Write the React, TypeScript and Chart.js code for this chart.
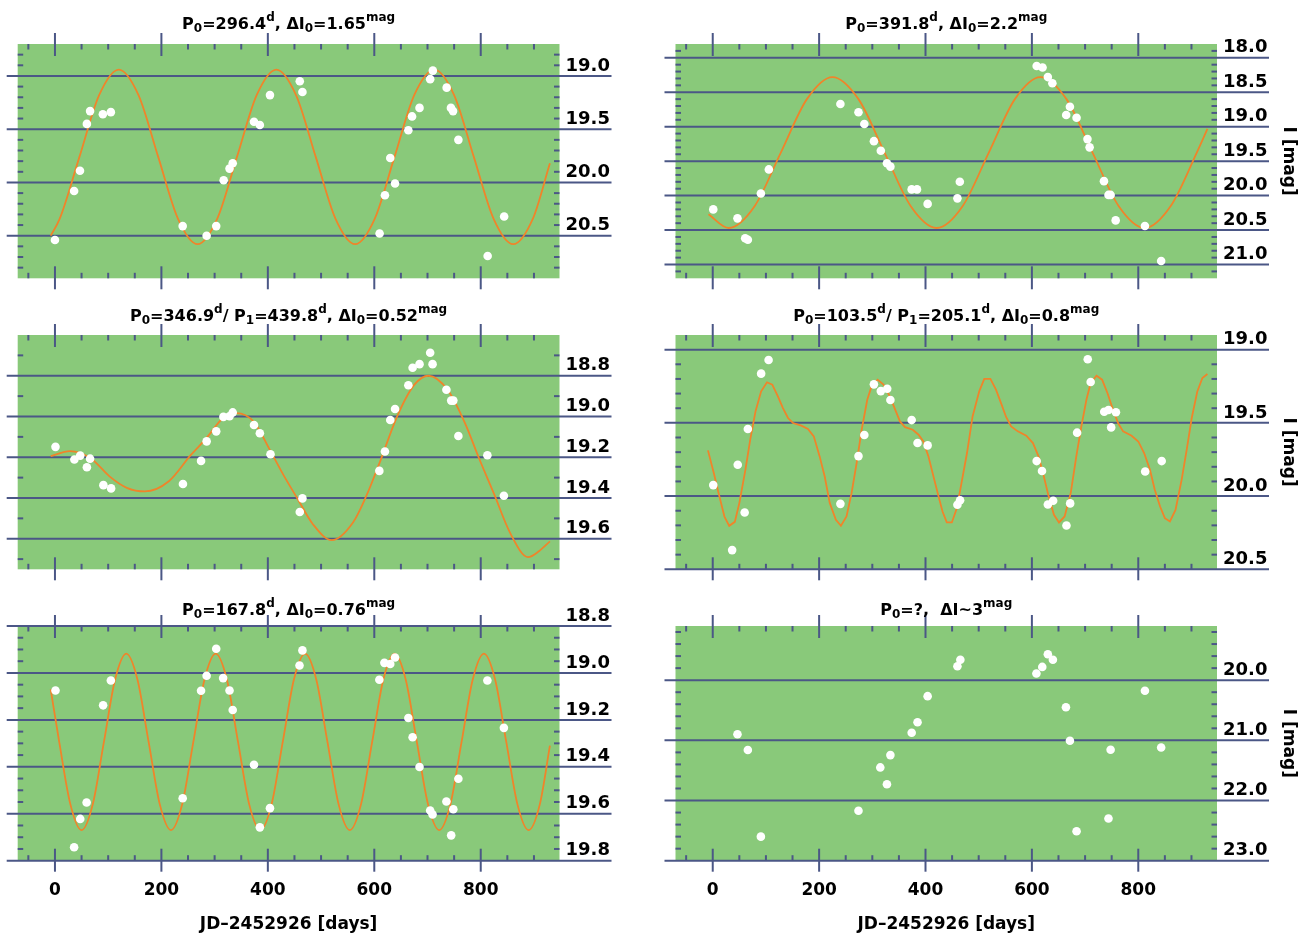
import React, { useEffect, useRef } from "react";
import { Chart, registerables } from "chart.js";

Chart.register(...registerables);

const FONT = "'DejaVu Sans', sans-serif";
const AXIS_COLOR = "#4b5786";
const PLOT_BG = "#89c97a";
const CURVE_COLOR = "#f0842a";

// ---------- shared x axis ----------
const X_MIN = -70;
const X_MAX = 948;
const xMajorTicks = [0, 200, 400, 600, 800];
const xMinorTicks = [-50, 50, 100, 150, 250, 300, 350, 450, 500, 550, 650, 700, 750, 850, 900];
const xAxisTitle = "JD–2452926 [days]";
const yAxisTitle = "I [mag]";

type Seg = [string, "n" | "sub" | "sup"];

// ---------- panel 1 ----------
const p1Title: Seg[] = [["P", "n"], ["0", "sub"], ["=296.4", "n"], ["d", "sup"], [", ΔI", "n"], ["0", "sub"], ["=1.65", "n"], ["mag", "sup"]];
const p1Days = [0, 36, 47, 60, 66, 90, 105, 240, 285, 303, 317, 328, 334, 374, 385, 404, 460, 465, 610, 620, 630, 639, 664, 671, 685, 705, 710, 736, 744, 748, 758, 813, 844];
const p1Mags = [20.54, 20.08, 19.89, 19.45, 19.33, 19.36, 19.34, 20.41, 20.5, 20.41, 19.98, 19.87, 19.82, 19.43, 19.46, 19.18, 19.05, 19.15, 20.48, 20.12, 19.77, 20.01, 19.51, 19.38, 19.3, 19.03, 18.95, 19.11, 19.3, 19.33, 19.6, 20.69, 20.32];
const p1CurveDays = [-8, 9, 46, 83, 120, 157, 194, 231, 268, 305, 342, 379, 416, 453, 490, 527, 564, 601, 638, 675, 713, 750, 787, 824, 861, 898, 930];
const p1CurveMags = [20.5, 20.34, 19.76, 19.18, 18.94, 19.18, 19.76, 20.34, 20.58, 20.34, 19.76, 19.18, 18.94, 19.18, 19.76, 20.34, 20.58, 20.34, 19.76, 19.18, 18.94, 19.18, 19.76, 20.34, 20.58, 20.34, 19.82];
const p1YTicks = [19.0, 19.5, 20.0, 20.5];

// ---------- panel 2 ----------
const p2Title: Seg[] = [["P", "n"], ["0", "sub"], ["=391.8", "n"], ["d", "sup"], [", ΔI", "n"], ["0", "sub"], ["=2.2", "n"], ["mag", "sup"]];
const p2Days = [1, 46.5, 61, 66, 90.5, 105.5, 240, 274, 285, 303, 316, 327.5, 334, 374, 384, 404, 460, 464.5, 609, 620, 630, 638.5, 664.5, 671.5, 684, 704.5, 708.5, 735.5, 744, 748, 757.5, 812.5, 843];
const p2Mags = [20.2, 20.33, 20.62, 20.64, 19.97, 19.62, 18.67, 18.79, 18.96, 19.21, 19.35, 19.53, 19.58, 19.91, 19.91, 20.12, 20.04, 19.8, 18.12, 18.14, 18.28, 18.37, 18.83, 18.71, 18.87, 19.18, 19.3, 19.79, 19.99, 19.99, 20.36, 20.44, 20.95];
const p2CurveDays = [-8, 30, 79, 128, 177, 225, 274, 323, 372, 421, 470, 519, 568, 616, 665, 714, 763, 812, 861, 910, 930];
const p2CurveMags = [20.27, 20.47, 20.15, 19.375, 18.6, 18.28, 18.6, 19.375, 20.15, 20.47, 20.15, 19.375, 18.6, 18.28, 18.6, 19.375, 20.15, 20.47, 20.15, 19.375, 19.03];
const p2YTicks = [18.0, 18.5, 19.0, 19.5, 20.0, 20.5, 21.0];

// ---------- panel 3 ----------
const p3Title: Seg[] = [["P", "n"], ["0", "sub"], ["=346.9", "n"], ["d", "sup"], ["/ P", "n"], ["1", "sub"], ["=439.8", "n"], ["d", "sup"], [", ΔI", "n"], ["0", "sub"], ["=0.52", "n"], ["mag", "sup"]];
const p3Days = [1, 36.5, 47.5, 60, 66, 91, 105.5, 240.5, 274.5, 285, 303, 316.5, 328, 334, 374, 385, 405, 460, 465, 609.5, 620, 630, 639, 664, 672, 685, 705, 709.5, 735.5, 744.5, 748.5, 758, 812.5, 843.5];
const p3Mags = [19.149, 19.211, 19.192, 19.249, 19.207, 19.337, 19.353, 19.331, 19.218, 19.122, 19.073, 19.002, 18.999, 18.98, 19.042, 19.082, 19.185, 19.469, 19.402, 19.267, 19.172, 19.017, 18.963, 18.847, 18.761, 18.743, 18.687, 18.743, 18.869, 18.922, 18.922, 19.096, 19.19, 19.389];
const p3CurveDays = [-8, 28, 67, 103, 135, 169, 214, 255, 285, 315, 341, 373, 405, 430, 455, 485, 520, 560, 585, 611, 643, 675, 702, 738, 770, 796, 825, 855, 889, 910, 930];
const p3CurveMags = [19.195, 19.17, 19.205, 19.295, 19.35, 19.368, 19.318, 19.19, 19.105, 19.01, 18.983, 19.024, 19.17, 19.29, 19.4, 19.53, 19.607, 19.52, 19.39, 19.22, 18.999, 18.845, 18.8, 18.87, 19.03, 19.2, 19.38, 19.57, 19.69, 19.66, 19.613];
const p3YTicks = [18.8, 19.0, 19.2, 19.4, 19.6];

// ---------- panel 4 ----------
const p4Title: Seg[] = [["P", "n"], ["0", "sub"], ["=103.5", "n"], ["d", "sup"], ["/ P", "n"], ["1", "sub"], ["=205.1", "n"], ["d", "sup"], [", ΔI", "n"], ["0", "sub"], ["=0.8", "n"], ["mag", "sup"]];
const p4Days = [1, 36.5, 47, 60, 66, 91, 105, 240, 274, 285, 303, 316, 328, 334, 374, 385, 404, 460, 465, 609, 619, 630, 640, 665, 672, 685, 705, 710.5, 736, 744, 749, 758, 813, 844];
const p4Mags = [19.925, 20.369, 19.786, 20.112, 19.542, 19.164, 19.071, 20.053, 19.727, 19.583, 19.237, 19.283, 19.267, 19.344, 19.481, 19.638, 19.654, 20.059, 20.028, 19.761, 19.829, 20.057, 20.032, 20.201, 20.05, 19.567, 19.066, 19.221, 19.424, 19.412, 19.531, 19.428, 19.832, 19.761];
const p4CurveDays = [-9, 2, 11, 22, 31, 41.5, 50, 61.5, 70.5, 80.5, 91, 102, 112, 122.5, 132, 141.5, 151, 166.5, 179, 190, 201, 210.5, 220, 231.5, 241, 251.5, 261, 270.5, 280, 290.5, 298.5, 310, 321, 333, 343, 352, 361.5, 376, 387, 396, 405.5, 415, 424.5, 432, 440, 449.5, 459, 466.5, 478, 488.5, 501, 510.5, 522, 532.5, 542, 551.5, 561, 573.5, 589.5, 602, 612.5, 622.5, 631.5, 641.5, 651, 661.5, 673, 683.5, 693, 702.5, 710.5, 721.5, 732, 742, 752.5, 762, 771.5, 787.5, 800, 811, 822, 831, 841, 850, 859.5, 870, 881.5, 891, 900.5, 911, 920.5, 930];
const p4CurveMags = [19.688, 19.843, 19.98, 20.14, 20.203, 20.176, 20.048, 19.82, 19.615, 19.42, 19.285, 19.223, 19.239, 19.319, 19.399, 19.467, 19.501, 19.519, 19.542, 19.592, 19.729, 19.866, 20.048, 20.162, 20.203, 20.139, 19.98, 19.775, 19.547, 19.342, 19.251, 19.205, 19.239, 19.319, 19.41, 19.49, 19.529, 19.547, 19.581, 19.627, 19.729, 19.866, 20.002, 20.105, 20.18, 20.18, 20.082, 19.934, 19.706, 19.456, 19.285, 19.2, 19.2, 19.273, 19.365, 19.46, 19.524, 19.558, 19.588, 19.638, 19.729, 19.866, 20.002, 20.128, 20.18, 20.139, 19.98, 19.729, 19.524, 19.342, 19.228, 19.178, 19.205, 19.296, 19.41, 19.501, 19.558, 19.588, 19.627, 19.706, 19.82, 19.957, 20.071, 20.151, 20.173, 20.094, 19.889, 19.684, 19.467, 19.285, 19.194, 19.166];
const p4YTicks = [19.0, 19.5, 20.0, 20.5];

// ---------- panel 5 ----------
const p5Title: Seg[] = [["P", "n"], ["0", "sub"], ["=167.8", "n"], ["d", "sup"], [", ΔI", "n"], ["0", "sub"], ["=0.76", "n"], ["mag", "sup"]];
const p5Days = [1, 36, 47.5, 59.5, 90.5, 105, 240, 274.5, 285, 303, 316, 328, 334, 374, 385, 404, 459.5, 465, 609.5, 619, 630, 639, 664, 672, 685, 705, 709.5, 735.5, 744.5, 748.5, 758, 812.5, 843.5];
const p5Mags = [19.075, 19.743, 19.622, 19.552, 19.138, 19.032, 19.534, 19.076, 19.012, 18.897, 19.022, 19.075, 19.158, 19.391, 19.658, 19.576, 18.968, 18.904, 19.029, 18.957, 18.962, 18.934, 19.192, 19.274, 19.401, 19.586, 19.603, 19.548, 19.692, 19.581, 19.451, 19.032, 19.234];
const p5CurveDays = [-8, 8, 29, 50, 71, 92, 113, 134, 155, 176, 197, 218, 239, 260, 281, 302, 323, 344, 365, 386, 407, 428, 449, 470, 491, 512, 533, 554, 575, 596, 617, 638, 659, 680, 701, 722, 743, 764, 785, 806, 827, 848, 869, 890, 911, 930];
const p5CurveMags = [19.07, 19.294, 19.56, 19.67, 19.56, 19.294, 19.028, 18.918, 19.028, 19.294, 19.56, 19.67, 19.56, 19.294, 19.028, 18.918, 19.028, 19.294, 19.56, 19.67, 19.56, 19.294, 19.028, 18.918, 19.028, 19.294, 19.56, 19.67, 19.56, 19.294, 19.028, 18.918, 19.028, 19.294, 19.56, 19.67, 19.56, 19.294, 19.028, 18.918, 19.028, 19.294, 19.56, 19.67, 19.56, 19.31];
const p5YTicks = [18.8, 19.0, 19.2, 19.4, 19.6, 19.8];

// ---------- panel 6 ----------
const p6Title: Seg[] = [["P", "n"], ["0", "sub"], ["=?,  ΔI~3", "n"], ["mag", "sup"]];
const p6Days = [46.5, 66, 90.5, 274, 315, 327.5, 334, 374, 385, 404, 460, 465.5, 608.5, 619.5, 630, 639.5, 664, 671.5, 684, 744, 748, 812.5, 843];
const p6Mags = [20.9, 21.16, 22.6, 22.17, 21.45, 21.73, 21.245, 20.874, 20.7, 20.266, 19.77, 19.66, 19.89, 19.78, 19.57, 19.66, 20.45, 21.007, 22.51, 22.3, 21.157, 20.177, 21.118];
const p6YTicks = [20.0, 21.0, 22.0, 23.0];

// ---------- layout ----------
const COLS = [
  { left: 0, width: 652, padLeft: 17.7, axisW: 92.5 },
  { left: 652, width: 653, padLeft: 23.5, axisW: 88 },
];
const ROWS = [
  { top: 0, height: 291, padBottom: 12.7, titleGap: 14.7, xAxisH: 0 },
  { top: 291, height: 291, padBottom: 12.7, titleGap: 14, xAxisH: 0 },
  { top: 582, height: 351, padBottom: 0, titleGap: 11, xAxisH: 72.3 },
];

type Panel = {
  title: Seg[];
  days: number[];
  mags: number[];
  curveDays?: number[];
  curveMags?: number[];
  curveMode?: "smooth" | "linear";
  yMin: number;
  yMax: number;
  yTicks: number[];
  yMinorStep: number;
  col: number;
  row: number;
};

const PANELS: Panel[] = [
  { title: p1Title, days: p1Days, mags: p1Mags, curveDays: p1CurveDays, curveMags: p1CurveMags, curveMode: "smooth", yMin: 18.7, yMax: 20.9, yTicks: p1YTicks, yMinorStep: 0.1, col: 0, row: 0 },
  { title: p2Title, days: p2Days, mags: p2Mags, curveDays: p2CurveDays, curveMags: p2CurveMags, curveMode: "smooth", yMin: 17.8, yMax: 21.2, yTicks: p2YTicks, yMinorStep: 0.1, col: 1, row: 0 },
  { title: p3Title, days: p3Days, mags: p3Mags, curveDays: p3CurveDays, curveMags: p3CurveMags, curveMode: "smooth", yMin: 18.6, yMax: 19.75, yTicks: p3YTicks, yMinorStep: 0.1, col: 0, row: 1 },
  { title: p4Title, days: p4Days, mags: p4Mags, curveDays: p4CurveDays, curveMags: p4CurveMags, curveMode: "linear", yMin: 18.9, yMax: 20.5, yTicks: p4YTicks, yMinorStep: 0.1, col: 1, row: 1 },
  { title: p5Title, days: p5Days, mags: p5Mags, curveDays: p5CurveDays, curveMags: p5CurveMags, curveMode: "smooth", yMin: 18.8, yMax: 19.8, yTicks: p5YTicks, yMinorStep: 0.05, col: 0, row: 2 },
  { title: p6Title, days: p6Days, mags: p6Mags, yMin: 19.1, yMax: 23.0, yTicks: p6YTicks, yMinorStep: 0.2, col: 1, row: 2 },
];

function makePlugins(p: Panel) {
  const r = ROWS[p.row];
  const bg = {
    id: "plotBg",
    beforeDraw(chart: any) {
      const { ctx, chartArea: a } = chart;
      ctx.save();
      ctx.fillStyle = PLOT_BG;
      ctx.fillRect(a.left, a.top, a.right - a.left, a.bottom - a.top);
      ctx.restore();
    },
  };
  const decor = {
    id: "frameDecor",
    beforeDatasetsDraw(chart: any) {
      const { ctx, chartArea: a } = chart;
      const xs = chart.scales.x;
      const ys = chart.scales.y;
      ctx.save();
      ctx.strokeStyle = AXIS_COLOR;
      ctx.lineWidth = 2;
      const seg = (x1: number, y1: number, x2: number, y2: number) => {
        ctx.beginPath();
        ctx.moveTo(x1, y1);
        ctx.lineTo(x2, y2);
        ctx.stroke();
      };
      for (const v of p.yTicks) {
        const y = ys.getPixelForValue(v);
        seg(a.left - 11, y, a.right + 52, y);
      }
      const step = p.yMinorStep;
      for (let k = Math.ceil(p.yMin / step - 1e-6); k * step <= p.yMax + 1e-9; k++) {
        const v = k * step;
        if (p.yTicks.some((m) => Math.abs(m - v) < 1e-6)) continue;
        const y = ys.getPixelForValue(v);
        if (y < a.top + 1.5 || y > a.bottom - 1.5) continue;
        seg(a.left, y, a.left + 5.5, y);
        seg(a.right - 5.5, y, a.right, y);
      }
      for (const v of xMinorTicks) {
        const x = xs.getPixelForValue(v);
        seg(x, a.top, x, a.top + 5.5);
        seg(x, a.bottom - 5.5, x, a.bottom);
      }
      for (const v of xMajorTicks) {
        const x = xs.getPixelForValue(v);
        seg(x, a.top - 11, x, a.top + 12);
        seg(x, a.bottom - 12, x, a.bottom + 11);
      }
      ctx.restore();
    },
  };
  const title = {
    id: "richTitle",
    afterDraw(chart: any) {
      const { ctx, chartArea: a } = chart;
      const fontFor = (k: string) => `bold ${k === "n" ? 16 : 12}px ${FONT}`;
      ctx.save();
      let total = 0;
      const widths = p.title.map(([t, k]) => {
        ctx.font = fontFor(k);
        const w = ctx.measureText(t).width;
        total += w;
        return w;
      });
      let x = (a.left + a.right) / 2 - total / 2;
      const base = a.top - r.titleGap;
      ctx.fillStyle = "#000";
      ctx.textAlign = "left";
      ctx.textBaseline = "alphabetic";
      p.title.forEach(([t, k], i) => {
        ctx.font = fontFor(k);
        const dy = k === "sub" ? 3 : k === "sup" ? -8.5 : 0;
        ctx.fillText(t, x, base + dy);
        x += widths[i];
      });
      ctx.restore();
    },
  };
  return [bg, decor, title];
}

function buildConfig(p: Panel): any {
  const c = COLS[p.col];
  const r = ROWS[p.row];
  const isBottom = p.row === 2;
  const isRight = p.col === 1;
  const datasets: any[] = [
    {
      label: "observed",
      data: p.days.map((d, i) => ({ x: d, y: p.mags[i] })),
      showLine: false,
      pointRadius: 4.3,
      pointHoverRadius: 4.3,
      pointBackgroundColor: "#ffffff",
      pointBorderColor: "#ffffff",
      pointBorderWidth: 0,
      order: 0,
    },
  ];
  if (p.curveDays && p.curveMags) {
    const cm = p.curveMags;
    datasets.push({
      label: "fit",
      data: p.curveDays.map((d, i) => ({ x: d, y: cm[i] })),
      showLine: true,
      borderColor: CURVE_COLOR,
      borderWidth: 1.8,
      pointRadius: 0,
      pointHoverRadius: 0,
      fill: false,
      tension: p.curveMode === "linear" ? 0 : 0.4,
      cubicInterpolationMode: p.curveMode === "linear" ? "default" : "monotone",
      order: 1,
    });
  }
  const zeroPad = (s: any) => {
    s.paddingTop = 0;
    s.paddingBottom = 0;
    s.paddingLeft = 0;
    s.paddingRight = 0;
  };
  return {
    type: "scatter",
    data: { datasets },
    options: {
      animation: false,
      responsive: false,
      maintainAspectRatio: false,
      devicePixelRatio: 1,
      events: [],
      layout: {
        autoPadding: false,
        padding: { left: c.padLeft, top: 44, right: 0, bottom: r.padBottom },
      },
      plugins: {
        legend: { display: false },
        tooltip: { enabled: false },
        title: { display: false },
      },
      scales: {
        x: {
          type: "linear",
          position: "bottom",
          min: X_MIN,
          max: X_MAX,
          display: isBottom,
          afterBuildTicks: (s: any) => {
            s.ticks = xMajorTicks.map((v) => ({ value: v }));
          },
          afterFit: (s: any) => {
            s.height = r.xAxisH;
            zeroPad(s);
          },
          grid: { display: false, drawTicks: false },
          border: { display: false },
          ticks: {
            autoSkip: false,
            maxRotation: 0,
            minRotation: 0,
            padding: 20,
            color: "#000",
            font: { family: FONT, size: 17, weight: "bold" },
            callback: (v: any) => String(v),
          },
          title: {
            display: true,
            text: xAxisTitle,
            color: "#000",
            font: { family: FONT, size: 17, weight: "bold", lineHeight: 1 },
            padding: { top: 0, bottom: 0 },
          },
        },
        y: {
          type: "linear",
          position: "right",
          reverse: true,
          min: p.yMin,
          max: p.yMax,
          afterBuildTicks: (s: any) => {
            s.ticks = p.yTicks.map((v) => ({ value: v }));
          },
          afterFit: (s: any) => {
            s.width = c.axisW;
            zeroPad(s);
          },
          grid: { display: false, drawTicks: false },
          border: { display: false },
          ticks: {
            autoSkip: false,
            padding: 6,
            labelOffset: -10,
            color: "#000",
            font: { family: FONT, size: 18, weight: "bold" },
            callback: (v: any) => Number(v).toFixed(1),
          },
          title: {
            display: isRight,
            text: yAxisTitle,
            color: "#000",
            font: { family: FONT, size: 17, weight: "bold", lineHeight: 1 },
            padding: { top: 8.5, bottom: 0 },
          },
        },
      },
    },
    plugins: makePlugins(p),
  };
}

function PanelChart({ panel }: { panel: Panel }) {
  const ref = useRef<HTMLCanvasElement | null>(null);
  useEffect(() => {
    if (!ref.current) return;
    const chart = new Chart(ref.current, buildConfig(panel));
    return () => chart.destroy();
  }, [panel]);
  const c = COLS[panel.col];
  const r = ROWS[panel.row];
  return (
    <canvas
      ref={ref}
      width={c.width}
      height={r.height}
      style={{ position: "absolute", left: c.left, top: r.top, width: c.width, height: r.height }}
    />
  );
}

export default function App() {
  return (
    <div style={{ position: "absolute", left: 0, top: 0, width: 1305, height: 933, background: "#ffffff", overflow: "hidden" }}>
      {PANELS.map((p, i) => (
        <PanelChart key={i} panel={p} />
      ))}
    </div>
  );
}
